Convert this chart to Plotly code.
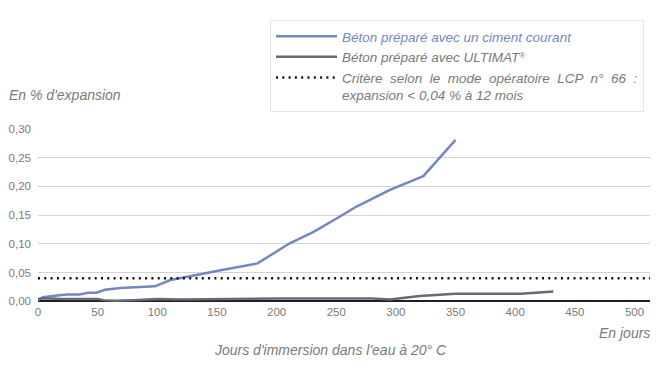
import plotly.graph_objects as go

# Data
days_courant = [0, 4, 16, 24, 35, 42, 49, 56, 69, 83, 98, 111, 125, 136, 153, 169, 184,
                211, 231, 251, 267, 295, 323, 350]
exp_courant = [0.002, 0.007, 0.010, 0.012, 0.012, 0.015, 0.015, 0.020, 0.023, 0.025, 0.026,
               0.037, 0.042, 0.047, 0.054, 0.060, 0.066, 0.101, 0.121, 0.145, 0.165,
               0.194, 0.218, 0.281]

days_ultimat = [0, 4, 10, 20, 35, 50, 55, 65, 80, 95, 100, 120, 150, 200, 250, 280, 295,
                320, 350, 380, 405, 432]
exp_ultimat = [0.004, 0.005, 0.005, 0.004, 0.004, 0.004, 0.002, 0.001, 0.002, 0.004, 0.004,
               0.003, 0.004, 0.005, 0.005, 0.005, 0.003, 0.009, 0.013, 0.013, 0.013, 0.017]

criterion_value = 0.04
x_max = 513
x_ticks = [0, 50, 100, 150, 200, 250, 300, 350, 400, 450, 500]
y_ticks = [0.00, 0.05, 0.10, 0.15, 0.20, 0.25, 0.30]

blue = "#7487c2"
gray = "#646b73"
text_gray = "#7a7a7a"

# page body has an 8px margin: work in reference coords, shifted by OFF
OFF = 8
W, H = 666 - OFF, 377 - OFF
ML, MT = 38 - OFF, 129 - OFF
PW = 612
PH = 303 - 129
MR = W - ML - PW
MB = H - MT - PH

def px(xr):
    return (xr - 38) / PW

def py(yr):
    return (303 - yr) / PH

sp = " \u00a0"
crit_name = ("<i>Critère" + sp + "selon" + sp + "le" + sp + "mode" + sp + "opératoire" + sp +
             "LCP" + sp + "n°" + sp + "66" + sp + ":<br>expansion &lt; 0,04 % à 12 mois</i>")

fig = go.Figure()

fig.add_trace(go.Scatter(
    x=days_courant, y=exp_courant, mode="lines",
    line=dict(color=blue, width=2.5),
    name=f'<span style="color:{blue}"><i>Béton préparé avec un ciment courant</i></span>',
))
fig.add_trace(go.Scatter(
    x=days_ultimat, y=exp_ultimat, mode="lines",
    line=dict(color=gray, width=2.5),
    name='<i>Béton préparé avec ULTIMAT<span style="font-size:8px;baseline-shift:super">®</span></i>',
))
fig.add_trace(go.Scatter(
    x=[0, x_max], y=[criterion_value, criterion_value], mode="lines",
    line=dict(color="#111111", width=2.5, dash="2px,4.3px"),
    name=crit_name,
))

fig.update_layout(
    width=W, height=H,
    margin=dict(l=ML, r=MR, t=MT, b=MB, autoexpand=False),
    paper_bgcolor="white", plot_bgcolor="white",
    font=dict(family="Liberation Sans, Arial, sans-serif", size=11, color=text_gray),
    separators=",.",
    showlegend=True,
    legend=dict(
        xref="container", yref="container",
        x=(270 - OFF) / W, y=1 - (20 - OFF) / H, xanchor="left", yanchor="top",
        bgcolor="white", bordercolor="#e4e4e4", borderwidth=1,
        font=dict(size=13.5, color=text_gray), valign="top",
        tracegroupgap=0, itemwidth=61,
    ),
    xaxis=dict(
        range=[0, x_max], tickvals=x_ticks, ticks="", showgrid=False, automargin=False,
        zeroline=False, showline=False, tickfont=dict(size=11.5, color=text_gray),
    ),
    yaxis=dict(
        range=[-0.003, 0.30], tickvals=y_ticks, tickformat=".2f", ticks="", automargin=False,
        showgrid=True, gridcolor="#d4d4d4", gridwidth=1, ticklabelstandoff=6,
        zeroline=True, zerolinecolor="#1b1f2a", zerolinewidth=2,
        showline=False, tickfont=dict(size=11.5, color=text_gray),
    ),
    annotations=[
        dict(text="<i>En % d'expansion</i>", xref="paper", yref="paper",
             x=px(8), y=py(95), xanchor="left", yanchor="middle", borderpad=0,
             showarrow=False, font=dict(size=14, color=text_gray)),
        dict(text="<i>En jours</i>", xref="paper", yref="paper",
             x=px(652), y=py(333), xanchor="right", yanchor="middle",
             showarrow=False, font=dict(size=14, color=text_gray)),
        dict(text="<i>Jours d'immersion dans l'eau à 20° C</i>", xref="paper", yref="paper",
             x=px(330), y=py(350), xanchor="center", yanchor="middle",
             showarrow=False, font=dict(size=14, color=text_gray)),
    ],
)

fig.write_html("out.html")
